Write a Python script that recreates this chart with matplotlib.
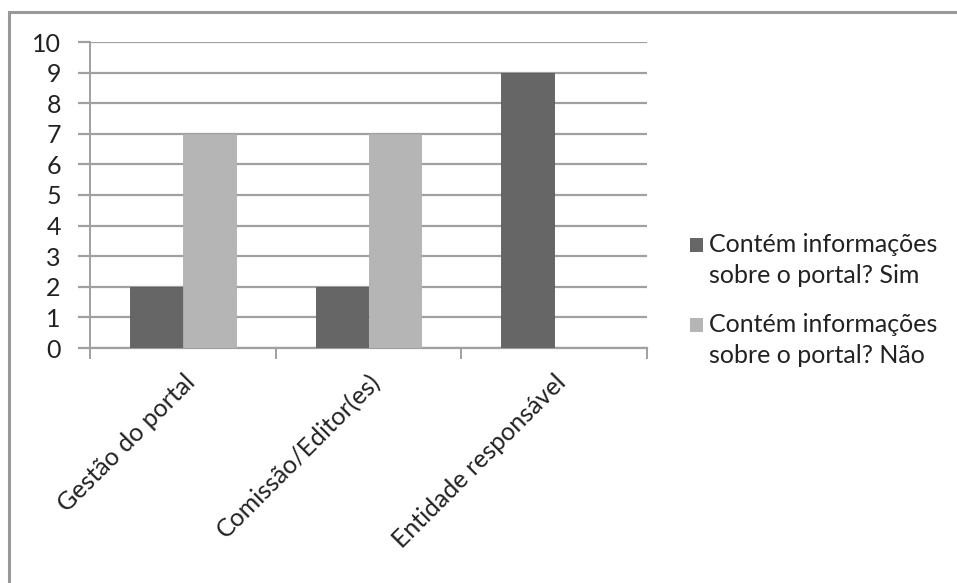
import matplotlib.pyplot as plt
from matplotlib.patches import Rectangle
import numpy as np

plt.rcParams['font.family'] = ['Lato', 'DejaVu Sans']

# --- Data ---
categorias = ["Gestão do portal", "Comissão/Editor(es)", "Entidade responsável"]
sim = [2, 2, 9]
nao = [7, 7, 0]
rotulos = ["Contém informações\nsobre o portal? Sim",
           "Contém informações\nsobre o portal? Não"]
cores = ["#666666", "#b5b5b5"]

W, H = 957, 583
fig = plt.figure(figsize=(W / 100, H / 100), dpi=100)

# --- Outer chart border (runs off the right and bottom edges) ---
fig.patches.append(Rectangle((9 / W, -0.05), 1.1, (H - 12) / H + 0.05,
                             transform=fig.transFigure, fill=False,
                             edgecolor="#999999", linewidth=2.2, zorder=0))

ax = fig.add_axes([90 / W, (H - 348) / H, (647 - 90) / W, (348 - 42) / H])

x = np.arange(len(categorias))
largura = 0.285
ax.bar(x - largura / 2, sim, largura, color=cores[0],
       edgecolor="#5a5a5a", linewidth=0.6, zorder=3)
ax.bar(x + largura / 2, nao, largura, color=cores[1],
       edgecolor="#b0b0b0", linewidth=0.6, zorder=3)

ax.set_xlim(-0.5, len(categorias) - 0.5)
ax.set_ylim(0, 10)
ax.set_yticks(range(0, 11))

# --- Grid and axes styling ---
ax.grid(axis='y', color="#a0a0a0", linewidth=1.6, zorder=1)
for s in ['top', 'right']:
    ax.spines[s].set_visible(False)
ax.spines['left'].set_color("#a0a0a0")
ax.spines['bottom'].set_color("#a0a0a0")
ax.spines['left'].set_linewidth(1.4)
ax.spines['bottom'].set_linewidth(1.6)

ax.tick_params(axis='y', length=9, width=1.6, color="#a0a0a0", labelsize=18,
               pad=12, labelcolor="#222222")
ax.set_xticks(np.arange(-0.5, len(categorias), 1), minor=True)
ax.set_xticks(x)
ax.tick_params(axis='x', which='major', length=0, labelsize=18, pad=16,
               labelcolor="#222222")
ax.tick_params(axis='x', which='minor', length=8, width=1.4, color="#a0a0a0")
ax.set_xticklabels(categorias, rotation=45, ha='right', rotation_mode='anchor')

# --- Legend: square beside the first line of each two-line label ---
for i, (rot, cor) in enumerate(zip(rotulos, cores)):
    base = 252 + i * 80
    fig.patches.append(Rectangle((690 / W, (H - base) / H), 13 / W, 14 / H,
                                 transform=fig.transFigure, facecolor=cor,
                                 edgecolor='none'))
    fig.text(709 / W, (H - base) / H, rot.split("\n")[0], fontsize=18,
             color="#222222", va='baseline', ha='left')
    fig.text(709 / W, (H - base - 31) / H, rot.split("\n")[1], fontsize=18,
             color="#222222", va='baseline', ha='left')

fig.savefig("out.png", dpi=100)
